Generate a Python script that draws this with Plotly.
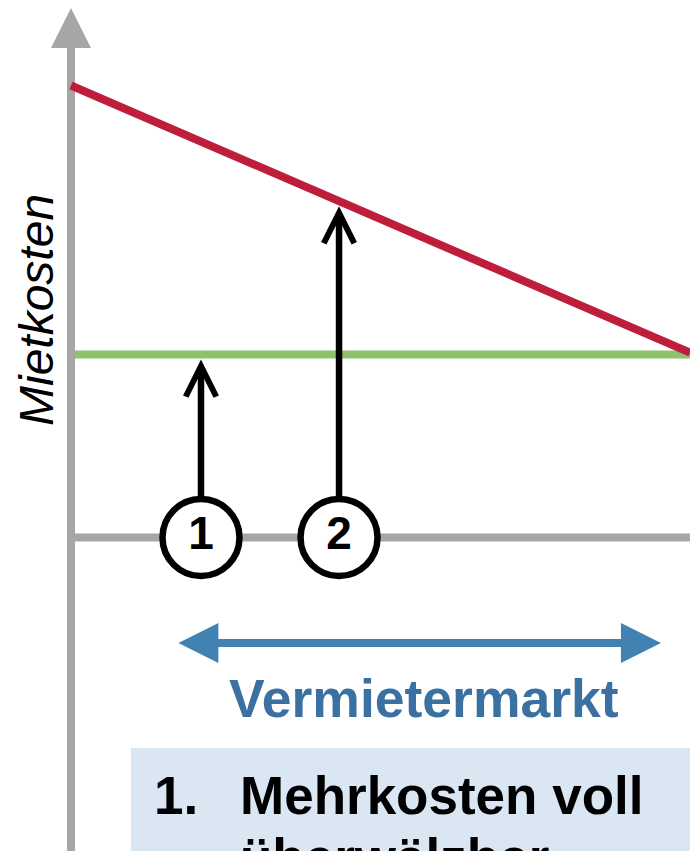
import numpy as np
import plotly.graph_objects as go

W, H = 690, 851

# --- chart values -------------------------------------------------------
market_x = [0.0, 10.0]            # position along the market axis
cost_rising = [2.47, 1.01]        # rent costs, red curve
cost_flat = [1.0, 1.0]            # rent costs, green level
case_x = [2.10, 4.33]             # positions of the two cases
case_labels = ["1", "2"]
market_span = [1.71, 9.53]        # extent of the landlord's market

axis_title = "Mietkosten"
market_title = "Vermietermarkt"
box_number = "1."
box_lines = ["Mehrkosten voll", "überwälzbar"]

# --- colours ------------------------------------------------------------
GRAY = "#A6A6A6"
RED = "#BE1E3C"
GREEN = "#8DC16C"
BLUE_ARROW = "#4282B3"
BLUE_TEXT = "#3A70A2"
BOX_FILL = "#DAE7F3"
FONT = "Arial, Liberation Sans, sans-serif"

# --- axis scaling (origin of the diagram and units per pixel) ----------
X0_PX, X_SCALE = 71.0, 61.9
Y0_PX, Y_SCALE = 537.5, 183.0
x_range = [-X0_PX / X_SCALE, (W - X0_PX) / X_SCALE]
y_range = [(Y0_PX - H) / Y_SCALE, Y0_PX / Y_SCALE]


def ypx(p):
    """pixel row -> y value"""
    return (Y0_PX - p) / Y_SCALE


def fx(p):
    return p / W


def fy(p):
    return 1 - p / H


fig = go.Figure()

# green constant cost level
fig.add_trace(go.Scatter(x=market_x, y=cost_flat, mode="lines",
                         line=dict(color=GREEN, width=8), hoverinfo="skip"))

# gray axes (horizontal baseline and vertical shaft)
fig.add_trace(go.Scatter(x=market_x, y=[0, 0], mode="lines",
                         line=dict(color=GRAY, width=8), hoverinfo="skip"))
y_top = ypx(8)
fig.add_trace(go.Scatter(x=[0, 0], y=[y_range[0] - 0.1, y_top - 30 / Y_SCALE],
                         mode="lines", line=dict(color=GRAY, width=8),
                         hoverinfo="skip"))

# red falling cost curve
fig.add_trace(go.Scatter(x=market_x, y=cost_rising, mode="lines",
                         line=dict(color=RED, width=8), hoverinfo="skip"))

annotations = []

# arrowhead of the vertical axis
annotations.append(dict(x=0, y=y_top, ax=0, ay=y_top - 60 / Y_SCALE,
                        xref="x", yref="y", axref="x", ayref="y",
                        showarrow=True, arrowhead=2, arrowsize=1,
                        arrowwidth=8, arrowcolor=GRAY, text=""))

# black arrows from the baseline up to the cost levels
tips = [float(np.interp(case_x[0], market_x, cost_flat)),
        float(np.interp(case_x[1], market_x, cost_rising))]
for cx, tip in zip(case_x, tips):
    annotations.append(dict(x=cx, y=tip, ax=cx, ay=0,
                            xref="x", yref="y", axref="x", ayref="y",
                            showarrow=True, arrowhead=5, arrowsize=0.92,
                            arrowwidth=6.5, arrowcolor="black",
                            standoff=5, startstandoff=40, text=""))

# circled case numbers
fig.add_trace(go.Scatter(
    x=case_x, y=[0, 0], mode="markers+text", text=case_labels,
    textposition="middle center",
    textfont=dict(family=FONT, size=46, color="black", weight="bold"),
    marker=dict(size=77, color="white", line=dict(color="black", width=6.5)),
    hoverinfo="skip"))

# double arrow marking the landlord's market
y_market = ypx(643)
annotations.append(dict(x=market_span[1], y=y_market, ax=market_span[0], ay=y_market,
                        xref="x", yref="y", axref="x", ayref="y",
                        showarrow=True, arrowhead=2, startarrowhead=2,
                        arrowside="end+start", arrowsize=1, startarrowsize=1,
                        arrowwidth=8, arrowcolor=BLUE_ARROW, text=""))

annotations.append(dict(x=fx(424), y=fy(698), xref="paper", yref="paper",
                        xanchor="center", yanchor="middle", showarrow=False,
                        text=market_title, borderpad=0,
                        font=dict(family=FONT, size=53.5, color=BLUE_TEXT, weight="bold")))

# rotated axis title
annotations.append(dict(x=fx(36), y=fy(310), xref="paper", yref="paper",
                        xanchor="center", yanchor="middle", showarrow=False,
                        textangle=-90, text=axis_title, borderpad=0,
                        font=dict(family=FONT, size=48, color="black", style="italic")))

# text box at the bottom
BOX_SIZE = 53
box_font = dict(family=FONT, size=BOX_SIZE, color="black", weight="bold")
baselines = [813, 875]
annotations.append(dict(x=fx(153), y=fy(baselines[0] - 0.905 * BOX_SIZE),
                        xref="paper", yref="paper",
                        xanchor="left", yanchor="top", showarrow=False,
                        text=box_number, borderpad=0, font=box_font))
for line, base in zip(box_lines, baselines):
    annotations.append(dict(x=fx(239), y=fy(base - 0.905 * BOX_SIZE),
                            xref="paper", yref="paper",
                            xanchor="left", yanchor="top", showarrow=False,
                            align="left", text=line, borderpad=0, font=box_font))

shapes = [dict(type="rect", xref="paper", yref="paper",
               x0=fx(131), x1=1.05, y0=fy(748), y1=-0.05,
               fillcolor=BOX_FILL, line=dict(width=0), layer="below")]

fig.update_layout(
    width=W, height=H,
    margin=dict(l=0, r=0, t=0, b=0),
    paper_bgcolor="white", plot_bgcolor="white",
    showlegend=False,
    xaxis=dict(range=x_range, visible=False, fixedrange=True),
    yaxis=dict(range=y_range, visible=False, fixedrange=True),
    annotations=annotations,
    shapes=shapes,
)

fig.write_html("out.html", config={"displayModeBar": False})
